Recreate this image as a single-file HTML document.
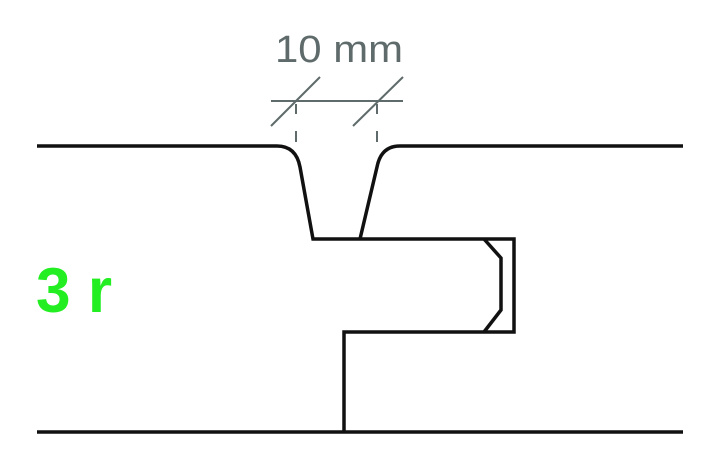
<!DOCTYPE html>
<html><head><style>html,body{margin:0;padding:0;background:#fff}svg{display:block}</style></head>
<body>
<svg width="720" height="468" viewBox="0 0 720 468" xmlns="http://www.w3.org/2000/svg">
<rect width="720" height="468" fill="#fff"/>
<g fill="none" stroke="#111" stroke-width="3.5" stroke-linejoin="miter">
<path d="M37 146 L277 146 Q296 146 300 167 L313 239 L514 239 L514 332 L344 332 L344 432"/>
<path d="M360 239 L377 167 Q381 146 400 146 L683 146"/>
<path d="M484 239 L501 258 L501 310 L484 332"/>
<path d="M37 432 L683 432"/>
</g>
<g stroke="#5f6b6b" stroke-width="2" fill="none">
<line x1="271" y1="101" x2="403" y2="101"/>
<line x1="271" y1="126" x2="320" y2="77"/>
<line x1="353" y1="126" x2="403" y2="77"/>
<line x1="296" y1="104" x2="296" y2="114"/>
<line x1="296" y1="131" x2="296" y2="142"/>
<line x1="377" y1="104" x2="377" y2="114"/>
<line x1="377" y1="131" x2="377" y2="142"/>
</g>
<text x="275" y="62" font-family="Liberation Sans, sans-serif" font-size="38" fill="#5f6b6b" textLength="128" lengthAdjust="spacingAndGlyphs">10 mm</text>
<text x="36" y="312" font-family="Liberation Sans, sans-serif" font-weight="bold" font-size="63" fill="#22ee22" textLength="76" lengthAdjust="spacingAndGlyphs">3 r</text>
</svg>
</body></html>
